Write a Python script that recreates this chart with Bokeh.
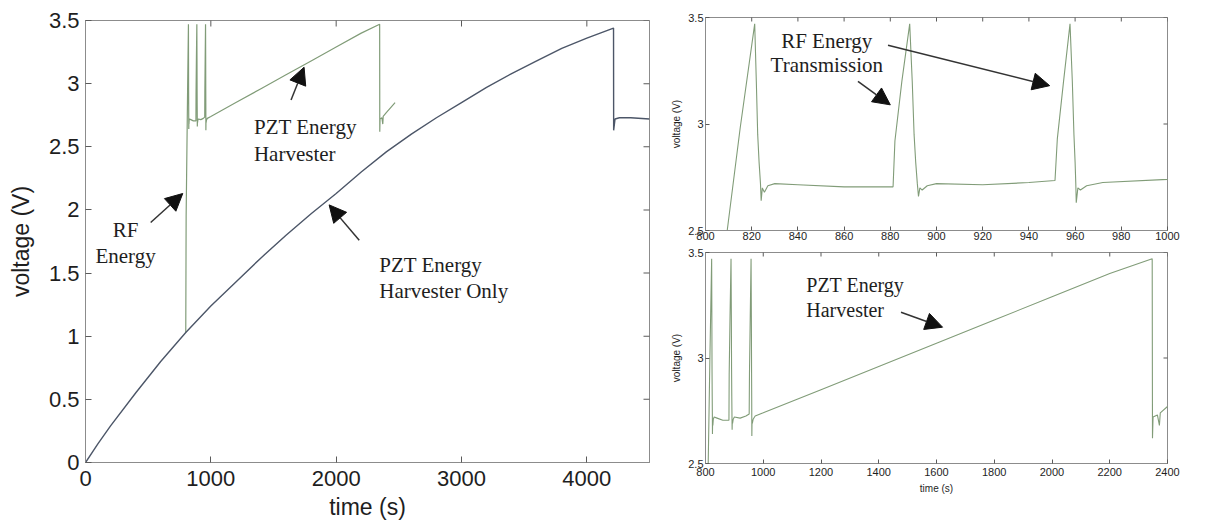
from bokeh.plotting import figure
from bokeh.layouts import row, column
from bokeh.models import Range1d, Arrow, NormalHead, FixedTicker
from bokeh.core.properties import value
from bokeh.embed import file_html
from bokeh.resources import INLINE

# ---------------- data ----------------
# PZT energy harvester only (blue trace, left panel)
pzt_only_t = [0, 100, 200, 400, 600, 800, 1000, 1200, 1400, 1600, 1800, 2000,
              2200, 2400, 2600, 2800, 3000, 3200, 3400, 3600, 3800, 4000,
              4213, 4214, 4225, 4260, 4350, 4500]
pzt_only_v = [0, 0.15, 0.29, 0.55, 0.80, 1.03, 1.24, 1.43, 1.62, 1.80, 1.97, 2.13,
              2.30, 2.46, 2.60, 2.73, 2.85, 2.97, 3.08, 3.18, 3.28, 3.36,
              3.44, 2.63, 2.72, 2.73, 2.73, 2.72]

# PZT energy harvester + RF energy transmission (green trace, all panels)
rf_t = [800, 803, 809.4, 815, 821.3, 822, 822.6, 823.2, 823.8, 824.1, 824.6, 825.5,
        827, 830, 840, 860, 881.2, 882, 885, 888.4, 889.5, 890.3, 891, 891.7,
        892.2, 892.8, 893.8, 896, 900, 920, 940, 951.3, 952.3, 955, 957.8,
        958.8, 959.5, 960, 960.3, 960.5, 961.2, 962.3, 965, 972, 1000, 1200,
        1400, 1600, 1800, 2000, 2200, 2347, 2348, 2350, 2365, 2372, 2375,
        2400, 2470]
rf_v = [1.03, 1.95, 2.50, 2.98, 3.47, 3.20, 2.95, 2.82, 2.72, 2.64, 2.70, 2.68,
        2.71, 2.72, 2.715, 2.705, 2.705, 2.92, 3.20, 3.47, 3.20, 2.95, 2.82, 2.72,
        2.66, 2.70, 2.69, 2.71, 2.72, 2.715, 2.725, 2.735, 2.93, 3.20, 3.47,
        3.20, 2.95, 2.82, 2.72, 2.63, 2.70, 2.69, 2.71, 2.725, 2.74, 2.85,
        2.96, 3.07, 3.18, 3.29, 3.40, 3.47, 2.62, 2.72, 2.73, 2.68, 2.74,
        2.77, 2.85]

# ticks
left_xticks = [0, 1000, 2000, 3000, 4000]
left_xlabels = ["0", "1000", "2000", "3000", "4000"]
left_yticks = [0, 0.5, 1, 1.5, 2, 2.5, 3, 3.5]
left_ylabels = ["0", "0.5", "1", "1.5", "2", "2.5", "3", "3.5"]
tr_xticks = [800, 820, 840, 860, 880, 900, 920, 940, 960, 980, 1000]
tr_xlabels = ["800", "820", "840", "860", "880", "900", "920", "940", "960", "980", "1000"]
br_xticks = [800, 1000, 1200, 1400, 1600, 1800, 2000, 2200, 2400]
br_xlabels = ["800", "1000", "1200", "1400", "1600", "1800", "2000", "2200", "2400"]
r_yticks = [2.5, 3, 3.5]
r_ylabels = ["2.5", "3", "3.5"]

# annotation texts
left_notes = ["PZT Energy\nHarvester", "RF\nEnergy", "PZT Energy\nHarvester Only"]
tr_note = ["RF Energy\nTransmission"]
br_note = ["PZT Energy\nHarvester"]

GRAY = "#8c8c8c"
TICK = "#5a5a5a"
BLUE = "#4c5668"
GREEN = "#819c78"
SANS = "Liberation Sans"
SERIF = "Liberation Serif"
TXT = "#1e1e1e"


def style_axes(p, xticks, xlabels, yticks, ylabels, fs, tick_len, xlabel, ylabel, lab_fs,
               x_standoff, y_standoff, lab_standoff_x, lab_standoff_y):
    xa = p.xaxis[0]
    ya = p.yaxis[0]
    xa.ticker = FixedTicker(ticks=xticks)
    ya.ticker = FixedTicker(ticks=yticks)
    xa.major_label_overrides = {t: l for t, l in zip(xticks, xlabels)}
    ya.major_label_overrides = {t: l for t, l in zip(yticks, ylabels)}
    for ax, st in ((xa, x_standoff), (ya, y_standoff)):
        ax.major_label_text_font = SANS
        ax.major_label_text_font_size = fs
        ax.major_label_text_color = TXT
        ax.major_tick_in = tick_len
        ax.major_tick_out = 0
        ax.minor_tick_in = 0
        ax.minor_tick_out = 0
        ax.axis_line_color = GRAY
        ax.major_tick_line_color = TICK
        ax.major_label_standoff = st
        ax.axis_label_text_font = SANS
        ax.axis_label_text_font_style = "normal"
        ax.axis_label_text_font_size = lab_fs
        ax.axis_label_text_color = TXT
    if xlabel:
        xa.axis_label = xlabel
    ya.axis_label = ylabel
    xa.axis_label_standoff = lab_standoff_x
    ya.axis_label_standoff = lab_standoff_y
    ya.major_label_orientation = "horizontal"
    p.grid.visible = False
    p.outline_line_color = GRAY
    p.background_fill_color = "white"
    p.border_fill_color = "white"
    # inward ticks on the top and right edges of the box (clipped to the frame)
    x1 = p.x_range.end
    y1 = p.y_range.end
    p.rect(x=xticks, y=[y1] * len(xticks), width=1, height=2 * tick_len,
           width_units="screen", height_units="screen", fill_color=TICK, line_color=None)
    p.rect(x=[x1] * len(yticks), y=yticks, width=2 * tick_len, height=1,
           width_units="screen", height_units="screen", fill_color=TICK, line_color=None)


def arrow(p, x0, y0, x1, y1, size=17):
    p.add_layout(Arrow(end=NormalHead(size=size, fill_color="#111111", line_color="#111111"),
                       x_start=x0, y_start=y0, x_end=x1, y_end=y1,
                       line_width=1.5, line_color="#333333"))


# ---------------- left panel ----------------
p1 = figure(width=668, height=524, x_range=Range1d(0, 4500), y_range=Range1d(0, 3.5),
            output_backend="svg", toolbar_location=None,
            min_border_left=85, min_border_right=19, min_border_top=20, min_border_bottom=62)
p1.line(rf_t, rf_v, line_color=GREEN, line_width=1.2)
p1.line(pzt_only_t, pzt_only_v, line_color=BLUE, line_width=1.4)
style_axes(p1, left_xticks, left_xlabels, left_yticks, left_ylabels, "22px", 6,
           "time (s)", "voltage (V)", "23px", 8, 6, 5, 12)
p1.text(x=[1344, 320, 2344], y=[2.75, 1.94, 1.66], text=left_notes,
        text_font=value(SERIF), text_font_size="21px", text_color=TXT,
        text_align=["left", "center", "left"], text_baseline="top", text_line_height=1.1)
arrow(p1, 1640, 2.87, 1744, 3.13)
arrow(p1, 520, 1.90, 776, 2.13)
arrow(p1, 2184, 1.76, 1944, 2.04)

# ---------------- top-right panel ----------------
p2 = figure(width=541, height=246, x_range=Range1d(800, 1000), y_range=Range1d(2.5, 3.5),
            output_backend="svg", toolbar_location=None,
            min_border_left=35, min_border_right=42, min_border_top=17, min_border_bottom=16)
p2.line(rf_t, rf_v, line_color=GREEN, line_width=1.1)
style_axes(p2, tr_xticks, tr_xlabels, r_yticks, r_ylabels, "11px", 4,
           None, "voltage (V)", "10px", 1, 2, 1, 3)
p2.text(x=[852.5], y=[3.445], text=tr_note, text_font=value(SERIF), text_font_size="21px",
        text_color=TXT, text_align="center", text_baseline="top", text_line_height=1.0)
arrow(p2, 866, 3.20, 880, 3.09)
arrow(p2, 879, 3.37, 949, 3.18)

# ---------------- bottom-right panel ----------------
p3 = figure(width=541, height=274, x_range=Range1d(800, 2400), y_range=Range1d(2.5, 3.5),
            output_backend="svg", toolbar_location=None,
            min_border_left=35, min_border_right=42, min_border_top=6, min_border_bottom=57)
p3.line(rf_t, rf_v, line_color=GREEN, line_width=1.1)
style_axes(p3, br_xticks, br_xlabels, r_yticks, r_ylabels, "11px", 4,
           "time (s)", "voltage (V)", "10px", 4, 2, 4, 3)
p3.text(x=[1149], y=[3.40], text=br_note, text_font=value(SERIF), text_font_size="20px",
        text_color=TXT, text_align="left", text_baseline="top", text_line_height=1.15)
arrow(p3, 1477, 3.217, 1621, 3.146)

layout = row(p1, column(p2, p3))
open("out.html", "w").write(file_html(layout, INLINE))
